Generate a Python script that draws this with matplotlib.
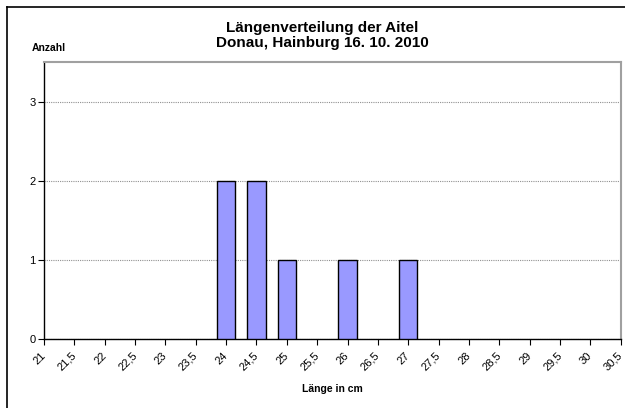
import matplotlib
matplotlib.use("Agg")
import matplotlib.pyplot as plt
from matplotlib.lines import Line2D
import numpy as np

plt.rcParams['font.family'] = ['Liberation Sans', 'DejaVu Sans']

# Length classes (cm) and fish counts
lengths = [21, 21.5, 22, 22.5, 23, 23.5, 24, 24.5, 25, 25.5,
           26, 26.5, 27, 27.5, 28, 28.5, 29, 29.5, 30, 30.5]
counts = [0, 0, 0, 0, 0, 0, 2, 2, 1, 0,
          1, 0, 1, 0, 0, 0, 0, 0, 0, 0]
tick_labels = [f"{v:g}".replace(".", ",") for v in lengths]
y_ticks = [0, 1, 2, 3]

title = "Längenverteilung der Aitel\nDonau, Hainburg 16. 10. 2010"
x_label = "Länge in cm"
y_label = "Anzahl"

W, H = 625, 408
fig = plt.figure(figsize=(W / 100, H / 100), dpi=100)
fig.patch.set_facecolor("white")

ax = fig.add_axes([44 / W, 1 - 338.7 / H, (620.7 - 44) / W, (338.7 - 62) / H])

# empty classes get no outline, only occupied classes are drawn as boxes
x_arr = np.array(lengths)
c_arr = np.array(counts)
occupied = c_arr > 0
ax.bar(x_arr[occupied], c_arr[occupied], width=0.3, color="#9999FF",
       edgecolor="black", linewidth=1.0, zorder=3)

ax.set_xlim(21, 30.5)
ax.set_ylim(0, 3.5)
ax.set_xticks(lengths)
ax.set_xticklabels(tick_labels, rotation=45, ha="right", va="center",
                   rotation_mode="anchor", fontsize=8)
ax.set_yticks(y_ticks)
ax.set_yticklabels([str(v) for v in y_ticks], fontsize=8)
ax.tick_params(axis="both", direction="out", length=4, width=0.8,
               color="black", pad=2)
ax.tick_params(axis="x", pad=7)

ax.grid(axis="y", color="#909090", linestyle=(0, (1, 1)), linewidth=0.8,
        zorder=0)
ax.set_axisbelow(True)

ax.spines["left"].set_color("black")
ax.spines["bottom"].set_color("black")
ax.spines["left"].set_linewidth(1.0)
ax.spines["bottom"].set_linewidth(1.0)
ax.spines["top"].set_color("#a0a0a0")
ax.spines["right"].set_color("#a0a0a0")
ax.spines["top"].set_linewidth(1.5)
ax.spines["right"].set_linewidth(1.5)

fig.text(322 / W, 1 - 35.5 / H, title, ha="center", va="center",
         fontsize=11, fontweight="bold", linespacing=1.15)
fig.text(32 / W, 1 - 48 / H, y_label, ha="left", va="center",
         fontsize=7.5, fontweight="bold")
fig.text(332 / W, 1 - 389 / H, x_label, ha="center", va="center",
         fontsize=7.5, fontweight="bold")

# Chart frame (left and top edges)
fig.add_artist(Line2D([6.5 / W, 6.5 / W], [0, 1 - 6.5 / H],
                      transform=fig.transFigure, color="black", linewidth=1.2))
fig.add_artist(Line2D([6.5 / W, 1], [1 - 6.5 / H, 1 - 6.5 / H],
                      transform=fig.transFigure, color="black", linewidth=1.2))

fig.savefig("out.png", dpi=100, facecolor="white")
